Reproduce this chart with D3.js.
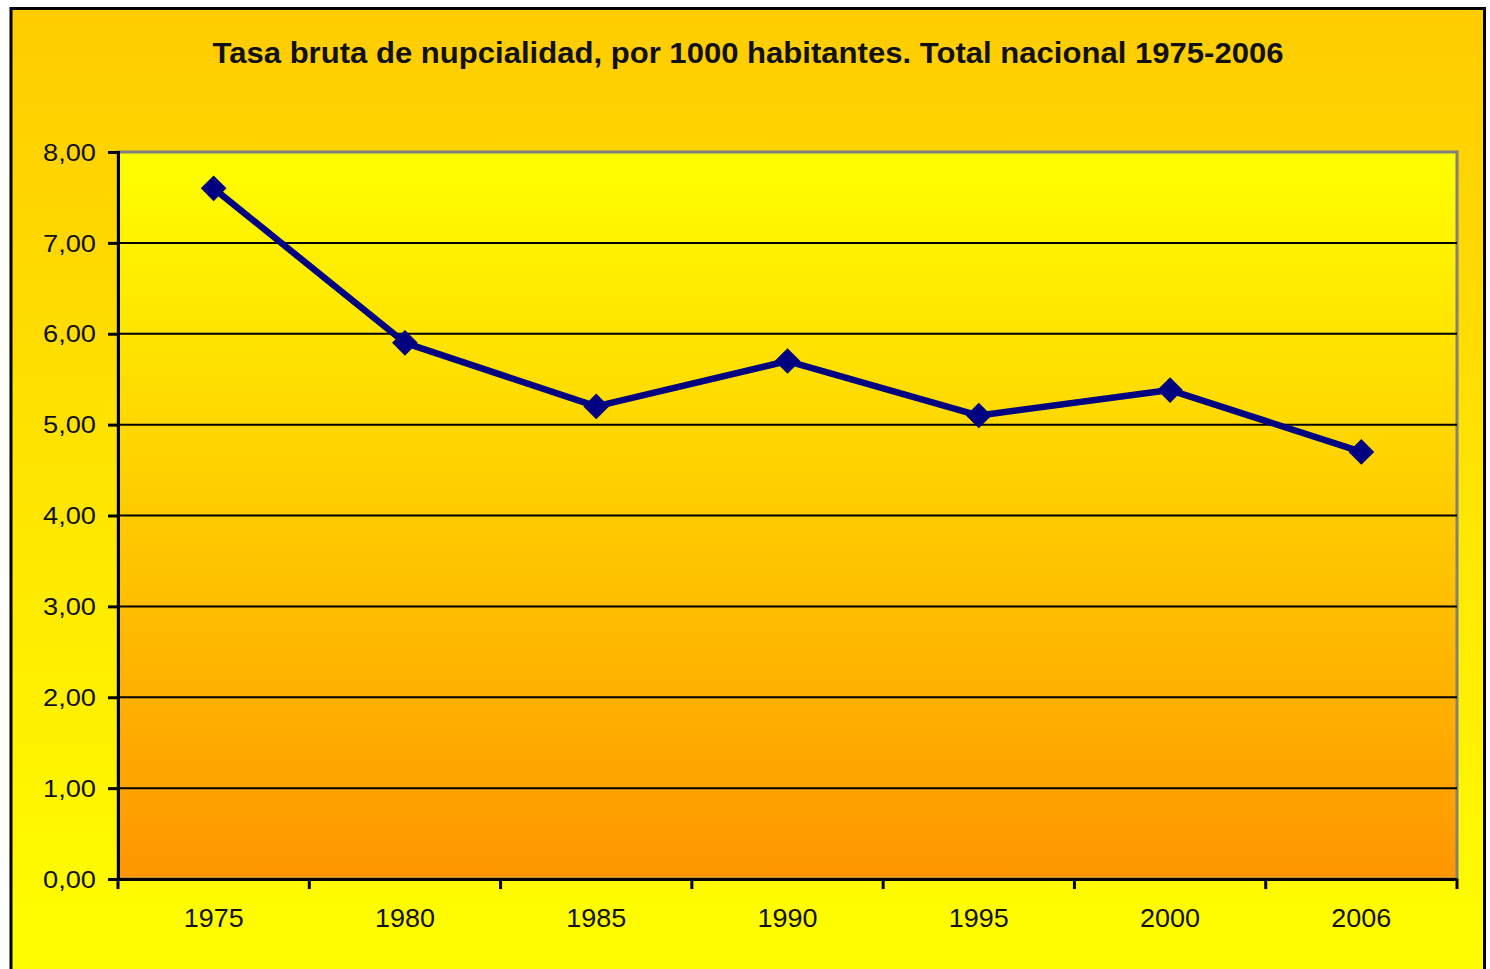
<!DOCTYPE html>
<html><head><meta charset="utf-8">
<script src="https://cdn.jsdelivr.net/npm/d3@7"></script>
<style>html,body{margin:0;padding:0;background:#fff;}svg{display:block;}</style>
</head><body>
<script>
const years = ["1975","1980","1985","1990","1995","2000","2006"];
const rates = [7.60, 5.90, 5.20, 5.70, 5.10, 5.38, 4.70];
const yTicks = [0,1,2,3,4,5,6,7,8];
const titleText = "Tasa bruta de nupcialidad, por 1000 habitantes. Total nacional 1975-2006";

(function(){
const W = 1490, H = 969;
const svg = d3.select("body").append("svg").attr("width", W).attr("height", H);
const defs = svg.append("defs");
const g1 = defs.append("linearGradient").attr("id","outerG").attr("x1",0).attr("y1",0).attr("x2",0).attr("y2",1);
g1.append("stop").attr("offset","0%").attr("stop-color","#FFCC00");
g1.append("stop").attr("offset","100%").attr("stop-color","#FFFF00");
const g2 = defs.append("linearGradient").attr("id","plotG").attr("x1",0).attr("y1",0).attr("x2",0).attr("y2",1);
g2.append("stop").attr("offset","0%").attr("stop-color","#FFFF00");
g2.append("stop").attr("offset","100%").attr("stop-color","#FF9600");

// outer chart area
svg.append("rect").attr("x",11).attr("y",8.5).attr("width",1473.5).attr("height",H+10)
  .attr("fill","url(#outerG)").attr("stroke","#000").attr("stroke-width",3);

const pLeft = 118, pRight = 1457, pTop = 152, pBottom = 879;
const x = d3.scaleBand().domain(years).range([pLeft, pRight]).padding(0);
const y = d3.scaleLinear().domain([0, 8]).range([pBottom, pTop]);

// plot area
svg.append("rect").attr("x",pLeft).attr("y",pTop).attr("width",pRight-pLeft).attr("height",pBottom-pTop)
  .attr("fill","url(#plotG)").attr("stroke","#808080").attr("stroke-width",3);

// gridlines
svg.append("g").selectAll("line").data(yTicks.filter(d => d > 0 && d < 8)).join("line")
  .attr("x1", pLeft).attr("x2", pRight).attr("y1", d => y(d)).attr("y2", d => y(d))
  .attr("stroke","#000").attr("stroke-width",2);

// y axis
const yAxis = svg.append("g").attr("transform",`translate(${pLeft},0)`)
  .call(d3.axisLeft(y).tickValues(yTicks).tickSize(10).tickPadding(12)
    .tickFormat(d => d3.format(".2f")(d).replace(".", ",")));
yAxis.select(".domain").attr("stroke","#000").attr("stroke-width",3);
yAxis.selectAll(".tick line").attr("stroke","#000").attr("stroke-width",3);
yAxis.selectAll("text").attr("font-family","Liberation Sans, Arial, sans-serif")
  .attr("font-size",24).attr("fill","#111").attr("dy","0.34em")
  .attr("textLength",53).attr("lengthAdjust","spacingAndGlyphs");

// x axis
const xAxis = svg.append("g").attr("transform",`translate(0,${pBottom})`)
  .call(d3.axisBottom(x).tickSize(0).tickPadding(35));
xAxis.select(".domain").attr("stroke","#000").attr("stroke-width",3);
xAxis.selectAll("text").attr("font-family","Liberation Sans, Arial, sans-serif")
  .attr("font-size",26).attr("fill","#111").attr("dy","0.5em")
  .attr("textLength",60).attr("lengthAdjust","spacingAndGlyphs");
// x tick marks at category boundaries
const bounds = years.map(d => x(d)).concat([x(years[years.length-1]) + x.bandwidth()]);
svg.append("g").selectAll("line").data(bounds).join("line")
  .attr("x1", d => d).attr("x2", d => d).attr("y1", pBottom).attr("y2", pBottom + 10)
  .attr("stroke","#000").attr("stroke-width",3);

// line
const cx = d => x(d) + x.bandwidth()/2;
const pts = years.map((d,i) => [cx(d), y(rates[i])]);
svg.append("path").datum(pts).attr("d", d3.line())
  .attr("fill","none").attr("stroke","#000080").attr("stroke-width",6.5).attr("stroke-linejoin","round");
svg.append("g").selectAll("path").data(pts).join("path")
  .attr("d", d3.symbol().type(d3.symbolDiamond2).size(420))
  .attr("transform", d => `translate(${d[0]},${d[1]})`)
  .attr("fill","#000080");

// title
svg.append("text").attr("x", 748).attr("y", 63).attr("text-anchor","middle")
  .attr("font-family","Liberation Sans, Arial, sans-serif").attr("font-weight","bold")
  .attr("font-size",29).attr("fill","#111")
  .attr("textLength",1071).attr("lengthAdjust","spacingAndGlyphs")
  .text(titleText);
})();
</script>
</body></html>
